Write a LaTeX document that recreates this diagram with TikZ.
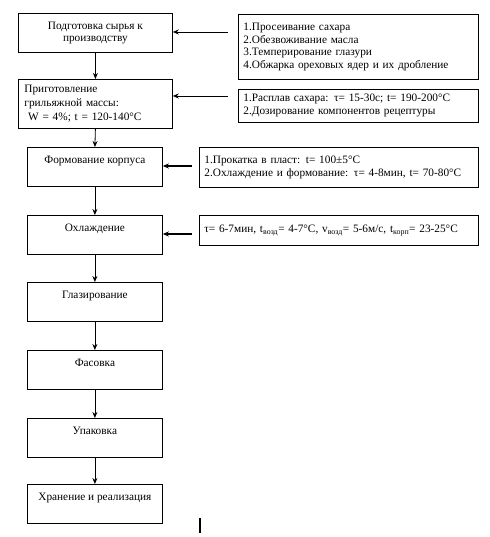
\documentclass[tikz,border=0pt]{standalone}
\usepackage{fontspec}
\setmainfont{Liberation Serif}
\usetikzlibrary{positioning, arrows.meta}

\tikzset{
  stage/.style={draw, line width=0.8pt, anchor=north west, inner sep=4pt, align=center},
  onestage/.style={stage, minimum width=135pt, minimum height=39pt, text height=12pt, text depth=19pt},
  note/.style={draw, line width=0.8pt, anchor=north west, inner sep=5pt, align=left},
}

\begin{document}
\begin{tikzpicture}[x=1pt, y=-1pt, >={Stealth[length=6pt, width=5pt]}]
        \useasboundingbox (0, 0) rectangle (489, 537);
        \fontsize{11.3}{12.7}\selectfont
        % left column
        \node [stage, minimum width=154pt, minimum height=39pt] (prep) at (18, 13) {Подготовка сырья к\\производству};
        \node [stage, minimum width=154pt, minimum height=49pt, text width=142pt, align=left, font=\fontsize{11.3}{14}\selectfont] (gril) at (18, 79) {Приготовление\\грильяжной массы:\\ \ W = 4\%; t = 120-140°C};
        \node [onestage] (form) at (27, 147) {Формование корпуса};
        \node [onestage] (cool) at (27, 215) {Охлаждение};
        \node [onestage] (glaz) at (27, 282) {Глазирование};
        \node [onestage] (fas) at (27, 350) {Фасовка};
        \node [onestage] (upak) at (27, 418) {Упаковка};
        \node [onestage] (hran) at (27, 484) {Хранение и реализация};

        % right column
        \node [note, minimum width=240pt, minimum height=65pt, text width=230pt] (r1) at (238, 14) {1.Просеивание сахара\\2.Обезвоживание масла\\3.Темперирование глазури\\4.Обжарка ореховых ядер и их дробление};
        \node [note, minimum width=240pt, minimum height=29pt, text width=230pt] (r2) at (238, 89) {1.Расплав сахара: τ= 15-30с; t= 190-200°C\\2.Дозирование компонентов рецептуры};
        \node [note, minimum width=279pt, minimum height=40pt, text width=269pt] (r3) at (199, 147) {1.Прокатка в пласт: t= 100±5°C\\2.Охлаждение и формование: τ= 4-8мин, t= 70-80°C};
        \node [note, minimum width=279pt, minimum height=30pt, text width=269pt] (r4) at (199, 215) {τ= 6-7мин, t\textsubscript{возд}= 4-7°C, v\textsubscript{возд}= 5-6м/с, t\textsubscript{корп}= 23-25°C};

        \coordinate (r1in) at (228, 32);
        \coordinate (r2in) at (228, 96);
        \coordinate (r3in) at (192, 166);
        \coordinate (r4in) at (192, 234);

        % arrows
        \foreach \a/\b in {prep/gril, gril/form, form/cool, cool/glaz, glaz/fas, fas/upak, upak/hran}
            \draw [->, line width=0.8pt] (\a.south) -- (\b.north);
        \draw [->, line width=0.8pt] (r1in) -- (r1in -| prep.east);
        \draw [->, line width=0.8pt] (r2in) -- (r2in -| gril.east);
        \draw [->, line width=1.2pt] (r3in) -- (r3in -| form.east);
        \draw [->, line width=1.8pt] (r4in) -- (r4in -| cool.east);

        \draw [line width=2.5pt] (200, 518) -- (200, 533);
    \end{tikzpicture}
\end{document}
